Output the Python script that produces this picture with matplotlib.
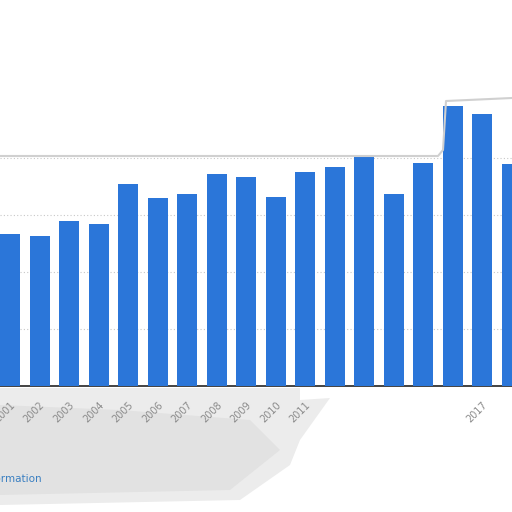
import matplotlib
matplotlib.use("Agg")
import matplotlib.pyplot as plt
from matplotlib.patches import Polygon

# data (units of one grid step)
years = ['2001', '2002', '2003', '2004', '2005', '2006', '2007', '2008', '2009',
         '2010', '2011', '2012', '2013', '2014', '2015', '2016', '2017', '2018']
values = [2.67, 2.64, 2.89, 2.84, 3.54, 3.29, 3.37, 3.72, 3.66,
          3.31, 3.75, 3.84, 4.04, 3.37, 3.92, 4.92, 4.78, 3.89]
shown_labels = ['2001', '2002', '2003', '2004', '2005', '2006', '2007', '2008',
                '2009', '2010', '2011', '', '', '', '', '', '2017', '']
grid_ticks = [1, 2, 3, 4]

bar_color = '#2b76d9'

fig = plt.figure(figsize=(5.12, 5.12), dpi=100, facecolor='white')

# soft grey shadow under the axis (left part of the cut-out)
shadow = Polygon([(0, 1-388/512), (300/512, 1-388/512),
                  (300/512, 1-400/512), (330/512, 1-398/512), (300/512, 1-440/512),
                  (290/512, 1-465/512), (240/512, 1-500/512), (0, 1-505/512)],
                 closed=True, transform=fig.transFigure, fc='#ececec', ec='none',
                 zorder=-5)
fig.patches.append(shadow)
inner = Polygon([(0, 1-405/512), (120/512, 1-410/512), (250/512, 1-420/512),
                 (280/512, 1-450/512), (230/512, 1-490/512), (0, 1-495/512)],
                closed=True, transform=fig.transFigure, fc='#e2e2e2', ec='none',
                zorder=-4)
fig.patches.append(inner)

# axes spans the whole width, bottom at y=386 px, top at y=100 px
ax = fig.add_axes([0, 1 - 386/512, 1, (386 - 100)/512])
ax.set_facecolor('none')
ax.set_zorder(1)

x = list(range(len(years)))
ax.bar(x, values, width=0.677, color=bar_color, zorder=3)

ax.set_xlim(-0.3386, 17.0)
ax.set_ylim(0, 286/57)
ax.set_yticks(grid_ticks)
ax.yaxis.grid(True, linestyle=(0, (1, 2)), color='#c8c8c8', linewidth=0.8, zorder=0)
ax.tick_params(axis='y', length=0, labelleft=False)

ax.set_xticks(x)
ax.set_xticklabels(shown_labels, rotation=45, ha='right', va='top',
                   rotation_mode='anchor', fontsize=7, color='#8a8a8a')
ax.tick_params(axis='x', length=0, pad=10)

for s in ['top', 'left', 'right']:
    ax.spines[s].set_visible(False)
ax.spines['bottom'].set_color('#222222')
ax.spines['bottom'].set_linewidth(1.2)

# cut-out border along the top of the plot area
fig.lines.append(plt.Line2D([0, 438/512, 443/512, 446/512, 512/512],
                            [1-156/512, 1-156/512, 1-150/512, 1-101/512, 1-98/512],
                            transform=fig.transFigure, color='#d0d0d0', lw=1.5))

fig.text(42/512, 1 - 479/512, 'Additional Information', ha='right', va='center',
         fontsize=7.5, color='#3a7fc1')

fig.savefig('out.png', dpi=100, facecolor='white')
